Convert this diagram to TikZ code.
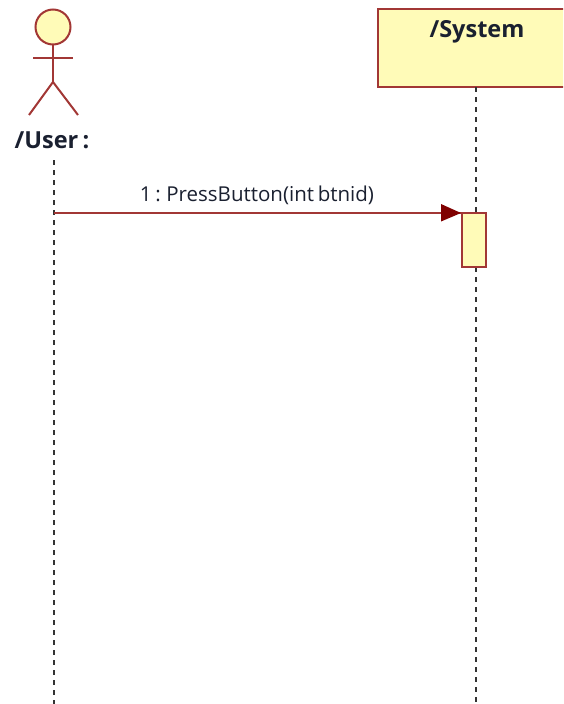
\documentclass[tikz,border=0pt]{standalone}
\usepackage{fontspec}
\setmainfont{Open Sans}[WordSpace=0.7]
\usetikzlibrary{arrows.meta}
\definecolor{umlred}{HTML}{A23735}
\definecolor{umlfill}{HTML}{FFFBB8}
\definecolor{headred}{HTML}{800000}
\definecolor{inktext}{HTML}{1A2030}
\tikzset{
  x=1pt,y=-1pt,
  umlbox/.style={draw=umlred,fill=umlfill,line width=2.4pt,inner sep=0pt,outer sep=0pt,anchor=north west},
  lifeline/.style={draw=black!80,line width=1.7pt,dash pattern=on 5pt off 5pt},
  actorline/.style={draw=umlred,line width=2pt},
  msg/.style={draw=umlred,line width=2.4pt},
  boldlabel/.style={font=\fontsize{23.5}{26}\selectfont\bfseries,text=inktext,inner sep=0pt},
  msglabel/.style={font=\fontsize{20.5}{24}\selectfont,text=inktext,inner sep=0pt}
}
\begin{document}
\begin{tikzpicture}
\useasboundingbox (0,0) rectangle (563,704);
\clip (0,0) rectangle (563,704);
\coordinate (userTop) at (54,160);
\coordinate (userEnd) at (54,704);
\coordinate (sysEnd) at (476,704);
\node[umlbox,minimum width=220pt,minimum height=78pt] (system) at (378,9) {};
\node[boldlabel] (systemlabel) at (477,32) {/System};
\draw[lifeline] (476,87) -- (sysEnd);
\draw[lifeline] (userTop) -- (userEnd);
\node[umlbox,minimum width=24pt,minimum height=54pt] (activation) at (462,213) {};
\node[circle,draw=umlred,fill=umlfill,line width=2pt,minimum size=35pt,inner sep=0pt,outer sep=0pt] (head) at (53,27) {};
\coordinate (hip) at (53,82);
\coordinate (armL) at (33,58);
\coordinate (armR) at (73,58);
\coordinate (footL) at (29,115);
\coordinate (footR) at (78,115);
\draw[actorline] (head.south) -- (hip);
\draw[actorline] (armL) -- (armR);
\draw[actorline] (footL) -- (hip) -- (footR);
\node[boldlabel] (userlabel) at (52,140.5) {/User :};
\coordinate (msgStart) at (54,213);
\draw[msg] (msgStart) -- (activation.north west);
\fill[headred] (441,204) -- (461,213) -- (441,221.5) -- cycle;
\node[msglabel] (msglabel) at (257,195) {1 : PressButton(int btnid)};
\end{tikzpicture}
\end{document}
